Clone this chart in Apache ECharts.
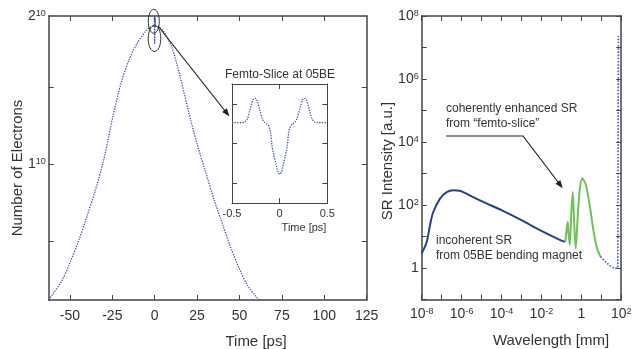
<!DOCTYPE html>
<html><head><meta charset="utf-8">
<script src="https://cdn.jsdelivr.net/npm/echarts@6/dist/echarts.min.js"></script>
<style>html,body{margin:0;padding:0;background:#fff}#c{width:634px;height:349px}</style>
</head><body><div id="c"></div>
<script>
// ---- left panel: electron bunch profile (units of 10^10) ----
const timePs = [-62.5,-60,-55,-50,-45,-40,-35,-30,-25,-20,-15,-10,-5,-2.5,-0.3,-0.25,-0.2,-0.1,0,0.1,0.2,0.25,0.3,2.5,5,10,15,20,25,30,35,40,45,50,55,60,62.5];
const electrons = [0.12,0.16,0.24,0.36,0.50,0.66,0.83,1.03,1.29,1.52,1.68,1.79,1.865,1.89,1.90,1.95,1.90,1.84,1.78,1.84,1.90,1.95,1.90,1.89,1.865,1.76,1.565,1.34,1.13,0.95,0.77,0.61,0.455,0.32,0.21,0.14,0.11];
const timeTicks = [-50,-25,0,25,50,75,100,125];
const electronTicks = [0.5,1,1.5];
const electronLabelVals = [1,1.96];
const electronLabelBase = ['1','2'];
const electronLabelExp = '10';

// ---- inset: femto-slice ----
const insetTime = [-0.5,-0.4,-0.37,-0.34,-0.31,-0.28,-0.26,-0.24,-0.21,-0.18,-0.16,-0.13,-0.11,-0.095,-0.08,-0.06,-0.04,-0.02,0,0.02,0.04,0.06,0.08,0.095,0.11,0.13,0.16,0.18,0.21,0.24,0.26,0.28,0.31,0.34,0.37,0.4,0.5];
const insetSignal = [0.53,0.53,0.54,0.62,0.86,1.1,1.14,1.1,0.86,0.62,0.54,0.49,0.42,0.28,-0.05,-0.3,-0.5,-0.7,-0.77,-0.7,-0.5,-0.3,-0.05,0.28,0.42,0.49,0.54,0.62,0.86,1.1,1.14,1.1,0.86,0.62,0.54,0.53,0.53];
const insetTicks = [-0.5,0,0.5];
const insetYTicks = [-1,0,1];

// ---- right panel: SR spectrum ----
const srWavelength = [1e-8,1.8e-8,2.6e-8,3.8e-8,8.3e-8,1.8e-7,3.9e-7,7.9e-7,1.2e-6,1e-5,1e-4,1e-3,1e-2,0.1,0.158];
const srIntensity = [2.9,6.8,23,60,160,257,295,282,257,132,69,33,15,7.4,6.8];
const cohWavelength = [0.158,0.178,0.209,0.229,0.263,0.309,0.372,0.437,0.525,0.66,0.83,1.1,1.62,1.95,2.88,4.17,6.17,9.1];
const cohIntensity = [6.8,14,29.5,12.6,5.4,42,257,29.5,4.2,42,295,692,479,295,69,14,4.2,2.3];
const tailWavelength = [9.1,16.2,28.8,45.7,67.6,69.2,70.8,72.4];
const tailIntensity = [2.3,1.58,1.15,0.98,1.0,100,1e5,2.3e7];

const FONT = "'Liberation Sans', Arial, Helvetica, sans-serif";
const TXT = '#333';
const AX = '#444';
const zip = (a, b) => a.map((v, i) => [v, b[i]]);
const rich = {
  b: {fontSize: 14, color: TXT, fontFamily: FONT},
  s: {fontSize: 9, color: TXT, fontFamily: FONT, verticalAlign: 'top'}
};
const logFmt = (v) => {
  const e = Math.round(Math.log10(v));
  if (e % 2 !== 0) return '';
  if (e === 0) return '{b|1}';
  return '{b|10}{s|' + e + '}';
};
const boxLine = {show: true, onZero: false, lineStyle: {color: AX, width: 1.5}};
const tickIn = (vals) => ({show: true, inside: true, length: 5, lineStyle: {color: AX, width: 1}, customValues: vals});

const chart = echarts.init(document.getElementById('c'), null, {renderer: 'canvas'});
const option = {
  animation: false,
  backgroundColor: '#fff',
  textStyle: {fontFamily: FONT},
  grid: [
    {left: 48.7, top: 16, width: 318, height: 284, outerBoundsMode: 'none', containLabel: false},
    {left: 232, top: 84, width: 95.3, height: 119.3, outerBoundsMode: 'none', containLabel: false},
    {left: 421.7, top: 16, width: 199.5, height: 283.5, outerBoundsMode: 'none', containLabel: false}
  ],
  xAxis: [
    {gridIndex: 0, type: 'value', min: -62.5, max: 125, position: 'bottom', axisLine: boxLine,
      axisTick: tickIn(timeTicks), splitLine: {show: false},
      axisLabel: {customValues: timeTicks, fontSize: 14, color: TXT, margin: 9, fontFamily: FONT}},
    {gridIndex: 0, type: 'value', min: -62.5, max: 125, position: 'top', axisLine: boxLine,
      axisTick: tickIn(timeTicks.slice(0, 7)), splitLine: {show: false}, axisLabel: {show: false}},
    {gridIndex: 1, type: 'value', min: -0.5, max: 0.5, interval: 0.5, position: 'bottom',
      axisLine: {show: true, onZero: false, lineStyle: {color: AX, width: 1}},
      axisTick: tickIn(insetTicks), splitLine: {show: false},
      axisLabel: {customValues: insetTicks, fontSize: 11, color: TXT, margin: 5, fontFamily: FONT}},
    {gridIndex: 1, type: 'value', min: -0.5, max: 0.5, position: 'top',
      axisLine: {show: true, onZero: false, lineStyle: {color: AX, width: 1}},
      axisTick: tickIn([0]), splitLine: {show: false}, axisLabel: {show: false}},
    {gridIndex: 2, type: 'log', logBase: 10, min: 1e-8, max: 1e2, interval: 1, position: 'bottom', axisLine: boxLine,
      axisTick: {show: true, inside: true, length: 5, lineStyle: {color: AX, width: 1}}, splitLine: {show: false},
      minorTick: {show: false},
      axisLabel: {formatter: logFmt, rich: rich, margin: 8, showMinLabel: true, showMaxLabel: true}},
    {gridIndex: 2, type: 'log', logBase: 10, min: 1e-8, max: 1e2, interval: 1, position: 'top', axisLine: boxLine,
      axisTick: {show: true, inside: true, length: 5, lineStyle: {color: AX, width: 1}}, splitLine: {show: false},
      axisLabel: {show: false}}
  ],
  yAxis: [
    {gridIndex: 0, type: 'value', min: 0.12, max: 1.96, position: 'left', axisLine: boxLine,
      axisTick: tickIn(electronTicks), splitLine: {show: false},
      axisLabel: {customValues: electronLabelVals, margin: 3, rich: rich,
        formatter: (v) => {
          const i = electronLabelVals.findIndex(x => Math.abs(x - v) < 1e-6);
          return i < 0 ? '' : '{b|' + electronLabelBase[i] + '}{s|' + electronLabelExp + '}';
        }}},
    {gridIndex: 0, type: 'value', min: 0.12, max: 1.96, position: 'right', axisLine: boxLine,
      axisTick: tickIn(electronTicks), splitLine: {show: false}, axisLabel: {show: false}},
    {gridIndex: 1, type: 'value', min: -1.5, max: 1.5, position: 'left',
      axisLine: {show: true, onZero: false, lineStyle: {color: AX, width: 1}},
      axisTick: tickIn(insetYTicks), splitLine: {show: false}, axisLabel: {show: false}},
    {gridIndex: 1, type: 'value', min: -1.5, max: 1.5, position: 'right',
      axisLine: {show: true, onZero: false, lineStyle: {color: AX, width: 1}},
      axisTick: tickIn(insetYTicks), splitLine: {show: false}, axisLabel: {show: false}},
    {gridIndex: 2, type: 'log', logBase: 10, min: 0.1, max: 1e8, interval: 1, position: 'left', axisLine: boxLine,
      axisTick: {show: true, inside: true, length: 5, lineStyle: {color: AX, width: 1}}, splitLine: {show: false},
      axisLabel: {formatter: logFmt, rich: rich, margin: 3, showMinLabel: true, showMaxLabel: true}},
    {gridIndex: 2, type: 'log', logBase: 10, min: 0.1, max: 1e8, interval: 1, position: 'right', axisLine: boxLine,
      axisTick: {show: true, inside: true, length: 5, lineStyle: {color: AX, width: 1}}, splitLine: {show: false},
      axisLabel: {show: false}}
  ],
  series: [
    {type: 'line', xAxisIndex: 0, yAxisIndex: 0, data: zip(timePs, electrons), symbol: 'none',
      smooth: 0.3, lineStyle: {color: '#3d50ad', width: 1.3, type: 'dotted'}},
    {type: 'line', xAxisIndex: 2, yAxisIndex: 2, data: zip(insetTime, insetSignal), symbol: 'none',
      smooth: 0.3, lineStyle: {color: '#3d50ad', width: 1.3, type: 'dotted'}},
    {type: 'line', xAxisIndex: 4, yAxisIndex: 4, data: zip(srWavelength, srIntensity), symbol: 'none',
      smooth: 0.3, lineStyle: {color: '#2c3c92', width: 2}},
    {type: 'line', xAxisIndex: 4, yAxisIndex: 4, data: zip(cohWavelength, cohIntensity), symbol: 'none',
      smooth: 0.3, lineStyle: {color: '#6fc257', width: 2}},
    {type: 'line', xAxisIndex: 4, yAxisIndex: 4, data: zip(tailWavelength, tailIntensity), symbol: 'none',
      smooth: false, lineStyle: {color: '#3d55b8', width: 1.6, type: 'dotted'}}
  ],
  graphic: [
    {type: 'ellipse', shape: {cx: 153.8, cy: 21.3, rx: 5.5, ry: 12}, style: {fill: 'none', stroke: '#333', lineWidth: 1}, z: 10},
    {type: 'ellipse', shape: {cx: 154.5, cy: 38.5, rx: 6.3, ry: 13}, style: {fill: 'none', stroke: '#333', lineWidth: 1}, z: 10},
    {type: 'line', shape: {x1: 158, y1: 26, x2: 225.5, y2: 111.5}, style: {stroke: '#222', lineWidth: 1.2}, z: 10},
    {type: 'polygon', shape: {points: [[229.5,116.5],[222.1,112.1],[226.9,108.3]]}, style: {fill: '#222'}, z: 10},
    {type: 'polyline', shape: {points: [[446,136],[523,136],[559.5,184]]}, style: {stroke: '#222', lineWidth: 1.2, fill: 'none'}, z: 10},
    {type: 'polygon', shape: {points: [[562.7,188.3],[555.5,183.7],[560.3,180.1]]}, style: {fill: '#222'}, z: 10},
    {type: 'text', x: 280, y: 75, style: {text: 'Femto-Slice at 05BE', font: '12px ' + FONT, fill: TXT, textAlign: 'center', textVerticalAlign: 'middle'}},
    {type: 'text', x: 304, y: 228, style: {text: 'Time [ps]', font: '11px ' + FONT, fill: TXT, textAlign: 'center', textVerticalAlign: 'middle'}},
    {type: 'text', x: 446, y: 109, style: {text: 'coherently enhanced SR', font: '12px ' + FONT, fill: TXT, textAlign: 'left', textVerticalAlign: 'middle'}},
    {type: 'text', x: 446, y: 124, style: {text: 'from \u201cfemto-slice\u201d', font: '12px ' + FONT, fill: TXT, textAlign: 'left', textVerticalAlign: 'middle'}},
    {type: 'text', x: 436, y: 240.7, style: {text: 'incoherent SR', font: '12px ' + FONT, fill: TXT, textAlign: 'left', textVerticalAlign: 'middle'}},
    {type: 'text', x: 436, y: 255.5, style: {text: 'from 05BE bending magnet', font: '12px ' + FONT, fill: TXT, textAlign: 'left', textVerticalAlign: 'middle'}},
    {type: 'text', x: 17.5, y: 168, rotation: Math.PI / 2, style: {text: 'Number of Electrons', font: '15px ' + FONT, fill: TXT, textAlign: 'center', textVerticalAlign: 'middle'}},
    {type: 'text', x: 388, y: 161, rotation: Math.PI / 2, style: {text: 'SR Intensity [a.u.]', font: '15px ' + FONT, fill: TXT, textAlign: 'center', textVerticalAlign: 'middle'}},
    {type: 'text', x: 256, y: 341.5, style: {text: 'Time [ps]', font: '15px ' + FONT, fill: TXT, textAlign: 'center', textVerticalAlign: 'middle'}},
    {type: 'text', x: 551, y: 341, style: {text: 'Wavelength [mm]', font: '15px ' + FONT, fill: TXT, textAlign: 'center', textVerticalAlign: 'middle'}}
  ]
};
chart.setOption(option);
</script>
</body></html>
